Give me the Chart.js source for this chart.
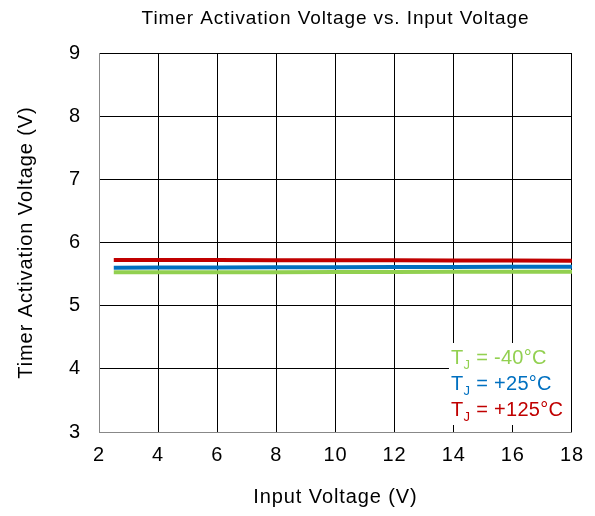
<!DOCTYPE html>
<html>
<head>
<meta charset="utf-8">
<script src="https://cdn.jsdelivr.net/npm/chart.js@4"></script>
<style>
  body { margin: 0; background: #fff; }
</style>
</head>
<body>
<canvas id="myChart" width="595" height="516"></canvas>
<script>
// values
const inputVoltage = [2.5, 4, 6, 8, 10, 12, 14, 16, 18];
const vTjMinus40 = [5.528, 5.529, 5.530, 5.531, 5.532, 5.534, 5.535, 5.536, 5.538];
const vTj25 = [5.601, 5.603, 5.605, 5.607, 5.609, 5.611, 5.613, 5.615, 5.617];
const vTj125 = [5.723, 5.722, 5.721, 5.720, 5.719, 5.718, 5.716, 5.715, 5.713];

const seriesNames = ["-40°C", "+25°C", "+125°C"];
const seriesColors = ["#92D050", "#0070C0", "#C00000"];
const chartTitle = "Timer Activation Voltage vs. Input Voltage";

Chart.defaults.font.family = "'Liberation Sans', Arial, sans-serif";
Chart.defaults.font.size = 20;
Chart.defaults.color = "#000";

function toPoints(ys) {
  return inputVoltage.map((x, i) => ({ x: x, y: ys[i] }));
}

// the reference text is a bit wider than Liberation Sans, so space the letters out
const wideText = {
  id: "wideText",
  beforeUpdate(chart) { chart.ctx.letterSpacing = "0.9px"; },
  beforeDraw(chart) { chart.ctx.letterSpacing = "0.9px"; },
};

// title centred over the plot area, not the whole canvas
const plotTitle = {
  id: "plotTitle",
  afterDraw(chart) {
    const ctx = chart.ctx;
    const area = chart.chartArea;
    ctx.save();
    ctx.fillStyle = "#000";
    ctx.font = "19px 'Liberation Sans', Arial";
    ctx.textAlign = "center";
    ctx.textBaseline = "middle";
    ctx.fillText(chartTitle, (area.left + area.right) / 2, 19);
    ctx.restore();
  },
};

// legend drawn as text inside the plot, with T and subscript J
const tjLegend = {
  id: "tjLegend",
  afterDatasetsDraw(chart) {
    const ctx = chart.ctx;
    const area = chart.chartArea;
    ctx.save();
    ctx.letterSpacing = "0.3px";
    ctx.fillStyle = "#fff";
    ctx.fillRect(area.right - 123, area.bottom - 89, 122, 82);
    ctx.textBaseline = "alphabetic";
    seriesNames.forEach((name, i) => {
      let x = area.right - 121;
      const y = area.bottom - 68 + i * 26;
      ctx.fillStyle = seriesColors[i];
      ctx.font = "20px 'Liberation Sans', Arial";
      ctx.fillText("T", x, y);
      x += ctx.measureText("T").width;
      ctx.font = "13px 'Liberation Sans', Arial";
      ctx.fillText("J", x, y + 5);
      x += ctx.measureText("J").width;
      ctx.font = "20px 'Liberation Sans', Arial";
      ctx.fillText(" = " + name, x, y);
    });
    ctx.restore();
  },
};

const chartTarget = document.querySelector("#myChart");
const datasets = [vTjMinus40, vTj25, vTj125].map((ys, i) => ({
  label: "TJ = " + seriesNames[i],
  data: toPoints(ys),
  borderColor: seriesColors[i],
  backgroundColor: seriesColors[i],
  borderWidth: 4,
  pointRadius: 0,
  tension: 0,
}));

new Chart(chartTarget, {
  type: "line",
  data: { datasets: datasets },
  options: {
    responsive: false,
    animation: false,
    layout: { padding: { top: 53, right: 23, bottom: 0, left: 0 } },
    plugins: {
      legend: { display: false },
      tooltip: { enabled: false },
      title: { display: false },
    },
    scales: {
      x: {
        type: "linear",
        min: 2,
        max: 18,
        ticks: { stepSize: 2, padding: 11 },
        grid: { color: "#000", drawTicks: false },
        border: { color: "#888" },
        title: { display: true, text: "Input Voltage (V)", padding: { bottom: 7 } },
        afterFit(scale) { scale.height = 84; },
      },
      y: {
        min: 3,
        max: 9,
        ticks: { stepSize: 1, padding: 18 },
        grid: { color: "#000", drawTicks: false },
        border: { color: "#888" },
        title: { display: true, text: "Timer Activation Voltage (V)", padding: { top: 14 } },
        afterFit(scale) { scale.width = 99; },
      },
    },
  },
  plugins: [wideText, plotTitle, tjLegend],
});
</script>
</body>
</html>
